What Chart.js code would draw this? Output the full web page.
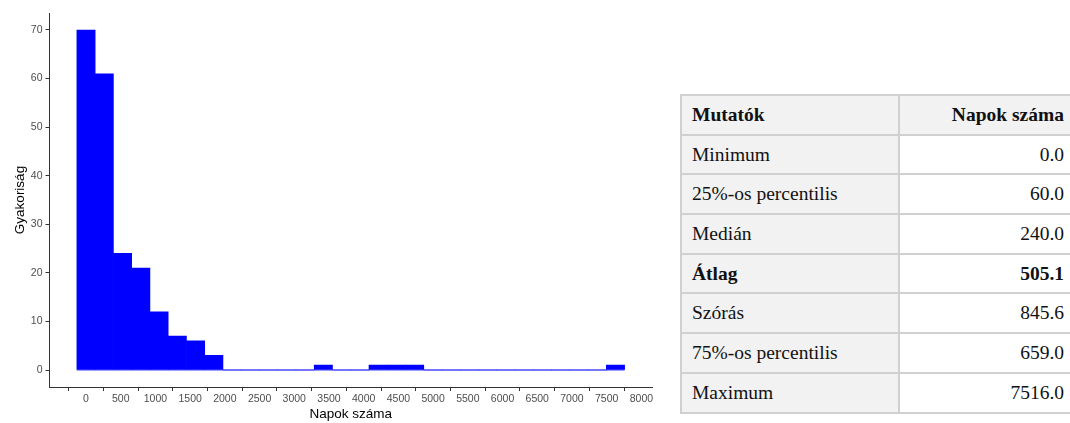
<!DOCTYPE html>
<html lang="hu">
<head>
<meta charset="utf-8">
<title>Napok száma – hisztogram és mutatók</title>
<script src="https://cdn.jsdelivr.net/npm/chart.js@4.4.1/dist/chart.umd.min.js"></script>
<style>
  html, body { margin: 0; padding: 0; background: #ffffff; }
  body { width: 1070px; height: 423px; position: relative; overflow: hidden; }
  #chartBox { position: absolute; left: 0; top: 0; width: 660px; height: 423px; }
  #stats {
    position: absolute; left: 680px; top: 94px; width: 394px;
    border-collapse: collapse;
    font-family: "Liberation Serif", "Times New Roman", serif;
    font-size: 19.5px; color: #111;
  }
  #stats td, #stats th {
    border: 2px solid #d0d0d0;
    height: 37.7px; padding: 0 8px 0 10px;
    font-weight: normal;
  }
  #stats td:first-child, #stats th:first-child { background: #f2f2f2; width: 198px; text-align: left; }
  #stats td:last-child { text-align: right; background: #ffffff; }
  #stats th:last-child { text-align: right; background: #f2f2f2; }
  #stats th { font-weight: bold; }
  #stats tr.bold td { font-weight: bold; }
</style>
</head>
<body>
<div id="chartBox"><canvas id="hist"></canvas></div>
<table id="stats"><thead></thead><tbody></tbody></table>

<script>
// Histogram bins: centre of each bin (days) and how many cases fall into it
const binCenters = [0, 263, 526, 789, 1052, 1315, 1578, 1841, 2104, 2367,
                    2630, 2893, 3156, 3419, 3682, 3945, 4208, 4471, 4734, 4997,
                    5260, 5523, 5786, 6049, 6312, 6575, 6838, 7101, 7364, 7627];
const binCounts  = [70, 61, 24, 21, 12, 7, 6, 3, 0, 0,
                    0, 0, 0, 1, 0, 0, 1, 1, 1, 0,
                    0, 0, 0, 0, 0, 0, 0, 0, 0, 1];
const binWidth = 263;

// Axis ticks
const xTicks = [0, 500, 1000, 1500, 2000, 2500, 3000, 3500, 4000,
                4500, 5000, 5500, 6000, 6500, 7000, 7500, 8000];
const yTicks = [0, 10, 20, 30, 40, 50, 60, 70];

// Descriptive statistics table
const statHeader = ["Mutatók", "Napok száma"];
const statLabels = ["Minimum", "25%-os percentilis", "Medián", "Átlag", "Szórás", "75%-os percentilis", "Maximum"];
const statValues = [0.0, 60.0, 240.0, 505.1, 845.6, 659.0, 7516.0];
const statBold   = ["Átlag"];

// ---- table ----
const thead = document.querySelector('#stats thead');
const hr = document.createElement('tr');
statHeader.forEach(h => { const th = document.createElement('th'); th.textContent = h; hr.appendChild(th); });
thead.appendChild(hr);
const tbody = document.querySelector('#stats tbody');
statLabels.forEach((lab, i) => {
  const tr = document.createElement('tr');
  if (statBold.includes(lab)) tr.className = 'bold';
  const a = document.createElement('td'); a.textContent = lab;
  const b = document.createElement('td'); b.textContent = statValues[i].toFixed(1);
  tr.appendChild(a); tr.appendChild(b); tbody.appendChild(tr);
});

// ---- histogram ----
const barData = binCenters.map((c, i) => ({ x: c, y: binCounts[i] }));
const firstEdge = binCenters[0] - binWidth / 2;
const lastEdge = binCenters[binCenters.length - 1] + binWidth / 2;
const baseline = [{ x: firstEdge, y: 0 }, { x: lastEdge, y: 0 }];

const axisColor = '#333333';
const tickFont = { family: '"Liberation Sans", Arial, sans-serif', size: 10.5 };
const titleFont = { family: '"Liberation Sans", Arial, sans-serif', size: 13.5 };
const plain = v => String(v);

new Chart(document.getElementById('hist'), {
  type: 'bar',
  data: {
    datasets: [
      {
        type: 'bar', data: barData, order: 0,
        backgroundColor: '#0000ff', borderWidth: 0,
        barPercentage: 1.0, categoryPercentage: 1.0
      },
      {
        type: 'line', data: baseline, order: 1,
        borderColor: 'rgba(80,80,255,0.75)', borderWidth: 1.5,
        pointRadius: 0, fill: false
      }
    ]
  },
  options: {
    responsive: true, maintainAspectRatio: false, animation: false,
    layout: { padding: { left: 0, top: 13, right: 8, bottom: 0 } },
    plugins: { legend: { display: false }, tooltip: { enabled: false } },
    scales: {
      x: {
        type: 'linear', min: -526, max: 8153, offset: false,
        afterBuildTicks: s => { s.ticks = xTicks.map(v => ({ value: v })); },
        afterFit: s => { s.height = 36; s.paddingLeft = 0; s.paddingRight = 0; },
        grid: { display: true, drawOnChartArea: false, drawTicks: true, tickLength: 4, color: axisColor },
        border: { display: true, color: axisColor, width: 1 },
        ticks: { color: '#4d4d4d', font: tickFont, padding: 2, maxRotation: 0, autoSkip: false, callback: plain },
        title: { display: true, text: 'Napok száma', color: '#000000', font: titleFont, padding: { top: 0, bottom: 1 } }
      },
      y: {
        type: 'linear', min: -3.5, max: 73.5,
        afterBuildTicks: s => { s.ticks = yTicks.map(v => ({ value: v })); },
        afterFit: s => { s.width = 49.5; s.paddingTop = 0; s.paddingBottom = 0; },
        grid: { display: true, drawOnChartArea: false, drawTicks: true, tickLength: 4, color: axisColor },
        border: { display: true, color: axisColor, width: 1 },
        ticks: { color: '#4d4d4d', font: tickFont, padding: 3, callback: plain },
        title: { display: true, text: 'Gyakoriság', color: '#000000', font: titleFont, padding: { top: 12, bottom: 0 } }
      }
    }
  }
});
</script>
</body>
</html>
